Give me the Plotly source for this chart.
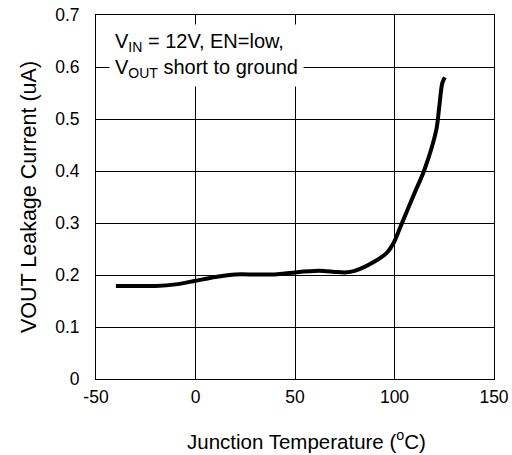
import plotly.graph_objects as go

# Junction temperature (°C) and VOUT leakage current (uA)
temp_c = [-40, -30, -20, -10, 0, 10, 20, 30, 40, 50, 62, 70, 75, 80, 90, 96, 100, 103, 110, 115, 121, 122.5, 124, 125.3]
leak_ua = [0.179, 0.179, 0.179, 0.182, 0.189, 0.196, 0.201, 0.201, 0.201, 0.205, 0.208, 0.206, 0.205, 0.208, 0.226, 0.242, 0.265, 0.293, 0.357, 0.402, 0.479, 0.524, 0.569, 0.58]

x_ticks = [-50, 0, 50, 100, 150]
x_tick_text = ["-50", "0", "50", "100", "150"]
y_ticks = [0, 0.1, 0.2, 0.3, 0.4, 0.5, 0.6, 0.7]
y_tick_text = ["0", "0.1", "0.2", "0.3", "0.4", "0.5", "0.6", "0.7"]

FONT = "Arial, Liberation Sans, sans-serif"

fig = go.Figure()
fig.add_trace(go.Scatter(
    x=temp_c, y=leak_ua, mode="lines",
    line=dict(color="black", width=4, shape="spline", smoothing=0.8),
    showlegend=False, hoverinfo="skip",
))

axis_common = dict(
    showgrid=True, gridcolor="black", gridwidth=1,
    showline=True, linecolor="black", linewidth=1, mirror=True,
    zeroline=False, ticks="", automargin=False,
    tickfont=dict(family=FONT, size=17.5, color="black"),
)

fig.update_layout(
    width=512, height=455,
    margin=dict(l=96, r=18, t=15, b=76),
    paper_bgcolor="white", plot_bgcolor="white",
    font=dict(family=FONT, color="black"),
    xaxis=dict(range=[-50, 150], tickvals=x_ticks, ticktext=x_tick_text,
               ticklabelstandoff=2, **axis_common),
    yaxis=dict(range=[0, 0.7], tickvals=y_ticks, ticktext=y_tick_text,
               ticklabelstandoff=12,
               title=dict(text="VOUT Leakage Current (uA)",
                          font=dict(family=FONT, size=21.5, color="black"), standoff=12),
               **axis_common),
    annotations=[
        dict(
            xref="paper", yref="paper", x=0.033, y=0.975,
            xanchor="left", yanchor="top", align="left", showarrow=False,
            text="V<sub>IN</sub> = 12V, EN=low,<br>V<sub>OUT</sub> short to ground",
            font=dict(family=FONT, size=20, color="black"),
            bgcolor="white", borderpad=5,
        ),
        # x-axis title, set slightly right of the plot centre
        dict(
            xref="paper", yref="paper", x=0.53, y=-0.168,
            xanchor="center", yanchor="middle", showarrow=False,
            text="Junction Temperature (<sup>o</sup>C)",
            font=dict(family=FONT, size=20.5, color="black"),
        ),
    ],
)

fig.write_html("out.html")
